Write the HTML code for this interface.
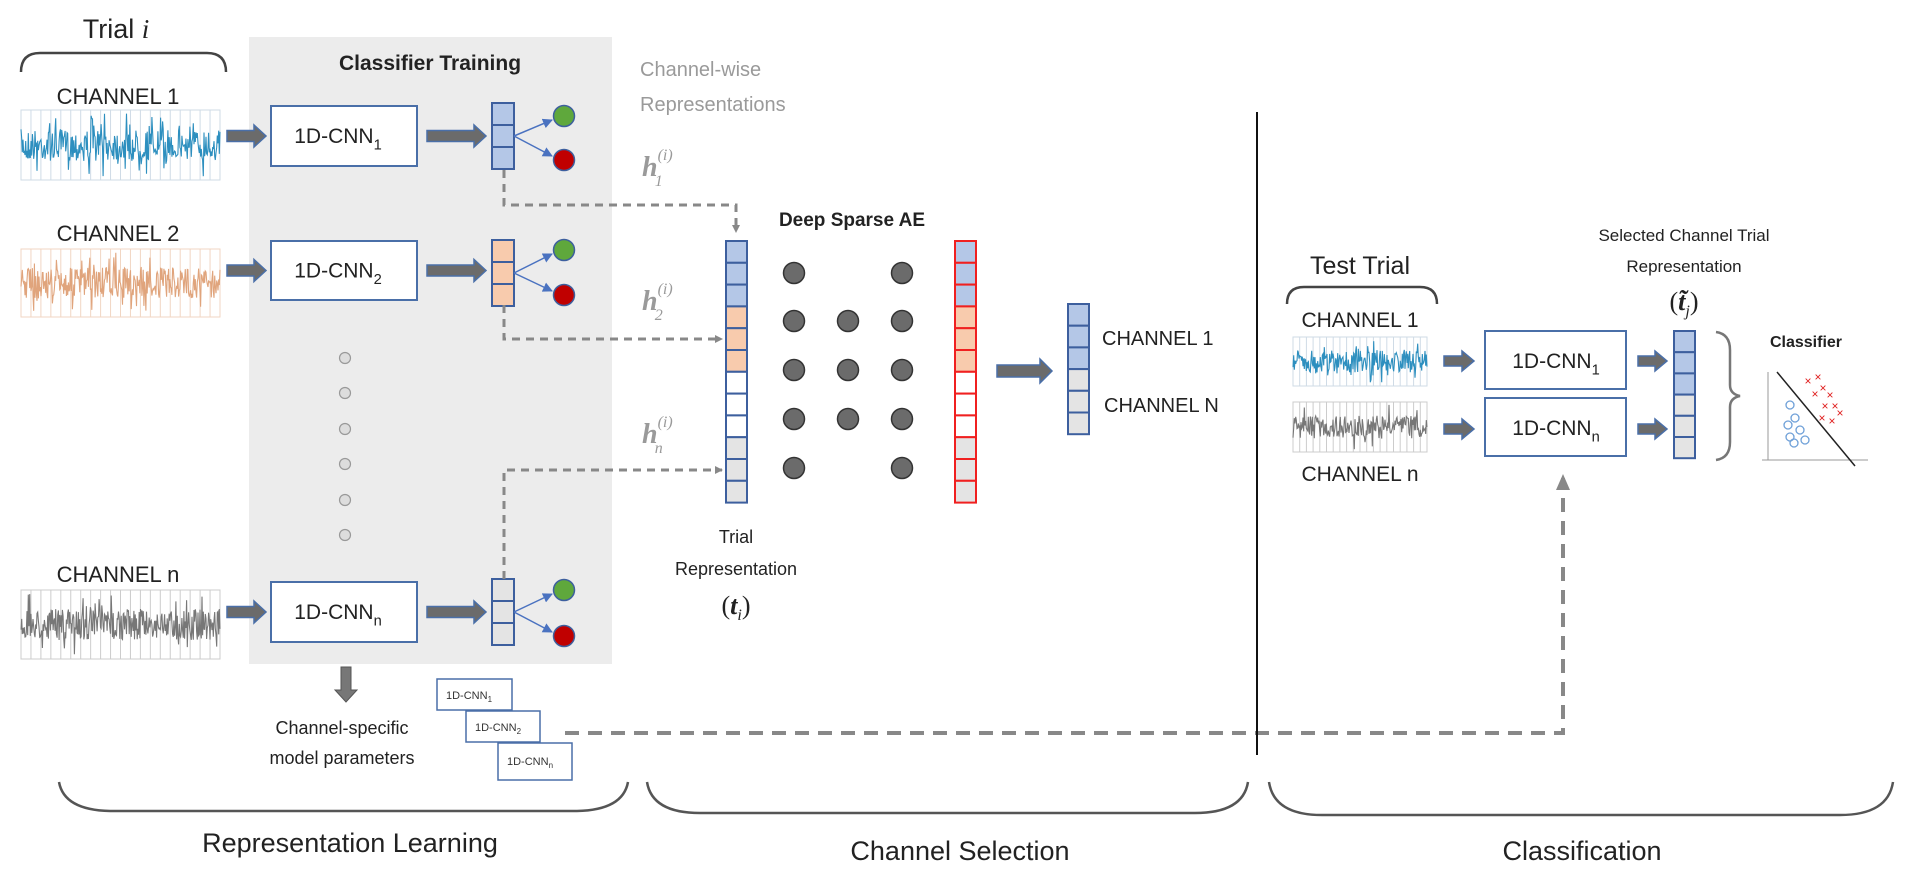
<!DOCTYPE html>
<html><head><meta charset="utf-8"><style>
html,body{margin:0;padding:0;background:#fff;}
svg{display:block;font-family:"Liberation Sans",sans-serif;}
</style></head><body>
<svg id="s" width="1913" height="885" viewBox="0 0 1913 885" xmlns="http://www.w3.org/2000/svg">
<defs>
<marker id="ah" markerWidth="8" markerHeight="8" refX="7" refY="4" orient="auto" markerUnits="userSpaceOnUse"><path d="M0,0 L8,4 L0,8 z" fill="#888"/></marker>
<marker id="bh" markerWidth="10" markerHeight="10" refX="9" refY="5" orient="auto" markerUnits="userSpaceOnUse"><path d="M0,0 L10,5 L0,10 z" fill="#4a72c0"/></marker>
</defs>
<rect x="249" y="37" width="363" height="627" fill="#ececec"/>
<g id="dyn"></g>
<!-- text -->
<g fill="#222">
<text x="116" y="38" font-size="27" text-anchor="middle">Trial <tspan font-style="italic" font-family="Liberation Serif">i</tspan></text>
<text x="430" y="70" font-size="21" font-weight="bold" text-anchor="middle">Classifier Training</text>
<text x="118" y="104" font-size="22" text-anchor="middle">CHANNEL 1</text>
<text x="118" y="241" font-size="22" text-anchor="middle">CHANNEL 2</text>
<text x="118" y="582" font-size="22" text-anchor="middle">CHANNEL n</text>
<text x="342" y="734" font-size="18" text-anchor="middle">Channel-specific</text>
<text x="342" y="764" font-size="18" text-anchor="middle">model parameters</text>
<text x="852" y="226" font-size="19" font-weight="bold" text-anchor="middle">Deep Sparse AE</text>
<text x="736" y="543" font-size="18" text-anchor="middle">Trial</text>
<text x="736" y="575" font-size="18" text-anchor="middle">Representation</text>
<text x="736" y="614" font-size="26" text-anchor="middle" font-family="Liberation Serif">(<tspan font-style="italic" font-weight="bold">t</tspan><tspan font-style="italic" font-size="16" dy="6">i</tspan><tspan dy="-6">)</tspan></text>
<text x="1102" y="345" font-size="20">CHANNEL 1</text>
<text x="1104" y="412" font-size="20">CHANNEL N</text>
<text x="1360" y="274" font-size="25" text-anchor="middle">Test Trial</text>
<text x="1360" y="327" font-size="21" text-anchor="middle">CHANNEL 1</text>
<text x="1360" y="481" font-size="21" text-anchor="middle">CHANNEL n</text>
<text x="1684" y="241" font-size="17" text-anchor="middle">Selected Channel Trial</text>
<text x="1684" y="272" font-size="17" text-anchor="middle">Representation</text>
<text x="1684" y="310" font-size="26" text-anchor="middle" font-family="Liberation Serif">(<tspan font-style="italic" font-weight="bold">t̃</tspan><tspan font-style="italic" font-size="16" dy="6">j</tspan><tspan dy="-6">)</tspan></text>
<text x="1806" y="347" font-size="16" font-weight="bold" text-anchor="middle">Classifier</text>
<text x="350" y="852" font-size="27" text-anchor="middle">Representation Learning</text>
<text x="960" y="860" font-size="27" text-anchor="middle">Channel Selection</text>
<text x="1582" y="860" font-size="27" text-anchor="middle">Classification</text>
</g>
<g fill="#9a9a9a" font-size="20">
<text x="640" y="76">Channel-wise</text>
<text x="640" y="111">Representations</text>
<g font-family="Liberation Serif" font-style="italic" font-weight="bold" font-size="28">
<text x="642" y="176">h<tspan font-size="16" font-weight="normal" dy="-16">(i)</tspan><tspan font-size="16" font-weight="normal" dx="-18" dy="26">1</tspan></text>
<text x="642" y="310">h<tspan font-size="16" font-weight="normal" dy="-16">(i)</tspan><tspan font-size="16" font-weight="normal" dx="-18" dy="26">2</tspan></text>
<text x="642" y="443">h<tspan font-size="16" font-weight="normal" dy="-16">(i)</tspan><tspan font-size="16" font-weight="normal" dx="-18" dy="26">n</tspan></text>
</g>
</g>
<!-- dashed -->
<g fill="none" stroke="#888" stroke-width="3" stroke-dasharray="8,6">
<polyline points="504,170 504,205 736,205 736,232" marker-end="url(#ah)"/>
<polyline points="504,305 504,339 722,339" marker-end="url(#ah)"/>
<polyline points="504,579 504,470 722,470" marker-end="url(#ah)"/>
</g>
<polyline points="565,733 1563,733 1563,478" fill="none" stroke="#888" stroke-width="4" stroke-dasharray="14,9"/>
<path d="M1556,490 L1563,474 L1570,490 z" fill="#888"/>
<line x1="1257" y1="112" x2="1257" y2="755" stroke="#111" stroke-width="2"/>
<!-- braces -->
<g fill="none" stroke="#444" stroke-width="2.5">
<path d="M21,72 Q21,53 40,53 L207,53 Q226,53 226,72"/>
<path d="M1287,304 Q1287,287 1304,287 L1420,287 Q1437,287 1437,304"/>
<path d="M59,782 Q64,810 110,811 L577,811 Q623,810 628,782" stroke="#555"/>
<path d="M647,782 Q652,813 700,813 L1195,813 Q1243,813 1248,782" stroke="#555"/>
<path d="M1269,782 Q1274,815 1322,815 L1840,815 Q1888,815 1893,782" stroke="#555"/>
<path d="M1716,332 Q1730,334 1730,350 L1730,385 Q1730,394 1740,396 Q1730,398 1730,407 L1730,442 Q1730,458 1716,460" stroke="#777"/>
</g>
<!-- small boxes -->
<g font-size="11" fill="#333">
<rect x="437" y="679" width="75" height="31" fill="#fff" stroke="#4a6fa8" stroke-width="1.5"/>
<text x="446" y="699">1D-CNN<tspan font-size="8" dy="3">1</tspan></text>
<rect x="466" y="711" width="74" height="31" fill="#fff" stroke="#4a6fa8" stroke-width="1.5"/>
<text x="475" y="731">1D-CNN<tspan font-size="8" dy="3">2</tspan></text>
<rect x="498" y="743" width="74" height="37" fill="#fff" stroke="#4a6fa8" stroke-width="1.5"/>
<text x="507" y="765">1D-CNN<tspan font-size="8" dy="3">n</tspan></text>
</g>
<path d="M341,667 L351,667 L351,690 L357,690 L346,702 L335,690 L341,690 z" fill="#777" stroke="#555"/>
</svg>
<script>
var g=document.getElementById('dyn');var NS='http://www.w3.org/2000/svg';
function el(t,a,p){var e=document.createElementNS(NS,t);for(var k in a)e.setAttribute(k,a[k]);(p||g).appendChild(e);return e;}
function txt(x,y,s,sub,size){var t=el('text',{x:x,y:y,'font-size':size,'text-anchor':'middle',fill:'#222'});t.textContent=s;var ts=el('tspan',{'font-size':size*0.7,dy:size*0.3},t);ts.textContent=sub;}
var seed=7;function rnd(){seed=(seed*16807)%2147483647;return seed/2147483647;}
function signal(x,y,w,h,col,grid){el('rect',{x:x,y:y,width:w,height:h,fill:'#fff',stroke:grid,'stroke-width':1});
for(var i=1;i<20;i++){var gx=x+i*w/20;el('line',{x1:gx,y1:y,x2:gx,y2:y+h,stroke:grid,'stroke-width':1});}
var p='';var n=Math.floor(w*1.5);for(var i=0;i<=n;i++){var v=(rnd()-0.5)*(rnd()<0.15?0.9:0.45);p+=(x+i*w/n).toFixed(1)+','+(y+h/2+v*h).toFixed(1)+' ';}
el('polyline',{points:p,fill:'none',stroke:col,'stroke-width':1.1});}
function arrow(x1,x2,y,hw){var h=hw||8;el('path',{d:'M'+x1+','+(y-h/2)+' L'+(x2-12)+','+(y-h/2)+' L'+(x2-12)+','+(y-h)+' L'+x2+','+y+' L'+(x2-12)+','+(y+h)+' L'+(x2-12)+','+(y+h/2)+' L'+x1+','+(y+h/2)+' z',fill:'#6b6b6b',stroke:'#4a6fa8','stroke-width':1.5});}
function vec(x,y,w,ch,cols,stroke){for(var i=0;i<cols.length;i++)el('rect',{x:x,y:y+i*ch,width:w,height:ch,fill:cols[i],stroke:stroke,'stroke-width':2});}
var B='#b4c7e7',O='#f8cbad',W='#fff',G='#e4e4e4',BS='#3d5f9e';
// rows
var rows=[[110,180,106,166,103,'#2d8fbf','#cfdbe6',[B,B,B],116,160,'1'],[249,317,241,300,240,'#e0a47c','#f1d6c3',[O,O,O],250,295,'2'],[590,659,582,642,579,'#777','#ccc',[G,G,G],590,636,'n']];
rows.forEach(function(r){signal(21,r[0],199,r[1]-r[0],r[5],r[6]);var cy=(r[2]+r[3])/2;arrow(227,266,cy,11);
el('rect',{x:271,y:r[2],width:146,height:r[3]-r[2],fill:'#fff',stroke:'#4a6fa8','stroke-width':2});txt(338,cy+7,'1D-CNN',r[10],21);
arrow(427,486,cy,11);vec(492,r[4],22,22,r[7],BS);
el('line',{x1:514,y1:r[4]+33,x2:552,y2:r[8]+4,stroke:'#4a72c0','stroke-width':1.5,'marker-end':'url(#bh)'});
el('line',{x1:514,y1:r[4]+33,x2:552,y2:r[9]-4,stroke:'#4a72c0','stroke-width':1.5,'marker-end':'url(#bh)'});
el('circle',{cx:564,cy:r[8],r:10.5,fill:'#5fa83c',stroke:'#3d5f9e','stroke-width':1.5});
el('circle',{cx:564,cy:r[9],r:10.5,fill:'#c00000',stroke:'#3d5f9e','stroke-width':1.5});});
[358,393,429,464,500,535].forEach(function(y){el('circle',{cx:345,cy:y,r:5.5,fill:'#ddd',stroke:'#999','stroke-width':1.2});});
// AE
var ae=[B,B,B,O,O,O,W,W,W,G,G,G];vec(726,241,21,21.8,ae,BS);vec(955,241,21,21.8,ae,'#f02020');
[[794,[273,321,370,419,468]],[848,[321,370,419]],[902,[273,321,370,419,468]]].forEach(function(c){c[1].forEach(function(y){el('circle',{cx:c[0],cy:y,r:10.5,fill:'#6b6b6b',stroke:'#333','stroke-width':1.5});});});
arrow(997,1052,371,12);vec(1068,304,21,21.7,[B,B,B,G,G,G],BS);
// classification
signal(1293,337,134,49,'#2d8fbf','#cfdbe6');signal(1293,402,134,50,'#777','#ccc');
arrow(1444,1474,361,10);arrow(1444,1474,429,10);
el('rect',{x:1485,y:331,width:141,height:58,fill:'#fff',stroke:'#4a6fa8','stroke-width':2});txt(1556,368,'1D-CNN','1',21);
el('rect',{x:1485,y:398,width:141,height:58,fill:'#fff',stroke:'#4a6fa8','stroke-width':2});txt(1556,435,'1D-CNN','n',21);
arrow(1638,1667,361,10);arrow(1638,1667,429,10);vec(1674,331,21,21.2,[B,B,B,G,G,G],BS);
// plot
el('line',{x1:1768,y1:372,x2:1768,y2:460,stroke:'#999','stroke-width':1});el('line',{x1:1762,y1:460,x2:1868,y2:460,stroke:'#999','stroke-width':1});
el('line',{x1:1777,y1:372,x2:1855,y2:466,stroke:'#222','stroke-width':1.5});
[[1790,405],[1795,418],[1788,425],[1800,430],[1790,437],[1805,440],[1794,443]].forEach(function(p){el('circle',{cx:p[0],cy:p[1],r:4,fill:'none',stroke:'#6fa0d8','stroke-width':1.3});});
[[1808,385],[1818,381],[1823,392],[1815,398],[1830,399],[1825,410],[1835,410],[1840,417],[1832,425],[1822,422]].forEach(function(p){var t=el('text',{x:p[0],y:p[1],'font-size':12,fill:'#e02020','text-anchor':'middle'});t.textContent='×';});
</script>
</body></html>
